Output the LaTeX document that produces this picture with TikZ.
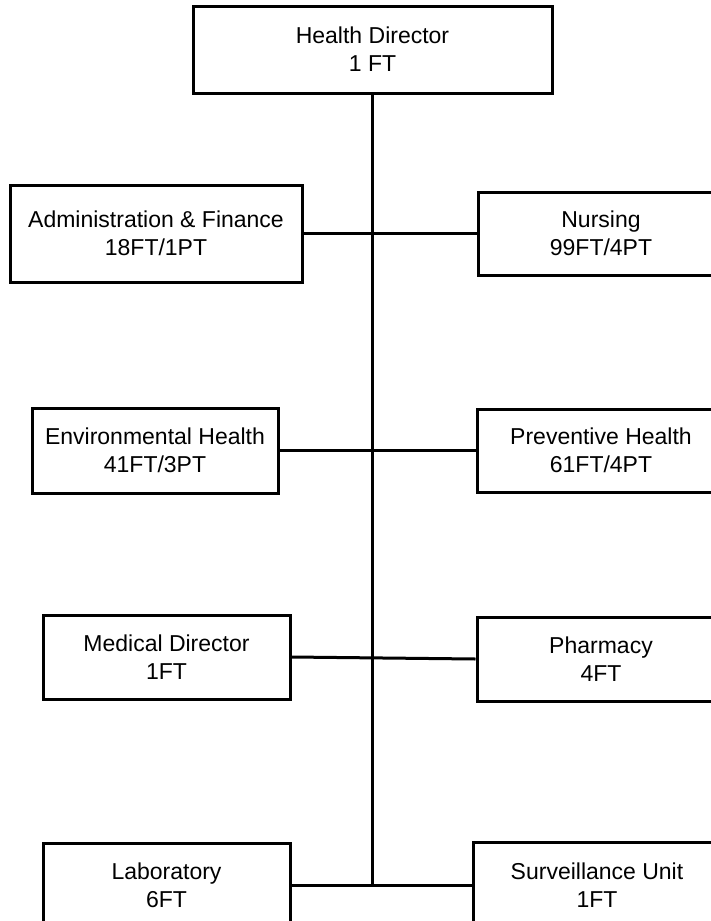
\documentclass[tikz,border=0pt]{standalone}
\usepackage{fontspec}
\setmainfont{Liberation Sans}

\begin{document}
\begin{tikzpicture}[x=1pt, y=-1pt]
        % ================= 样式定义 =================
        \tikzset{
            % 部门框:白底黑边矩形
            dept/.style={rectangle, draw=black, line width=3pt, fill=white, inner sep=0pt, align=center, font=\fontsize{23}{28}\selectfont},
            % 连线样式
            link/.style={line width=3pt, black}
        }
        \useasboundingbox (0,0) rectangle (710,921);

        % ================= 节点位置 =================
        \node[dept, minimum width=359pt, minimum height=87pt] (hd) at (372.5, 49.5) {Health Director\\1 FT};

        \node[dept, minimum width=292pt, minimum height=97pt] (admin) at (156, 233.5) {Administration \& Finance\\18FT/1PT};
        \node[dept, minimum width=246pt, minimum height=83pt] (nurs) at (601, 233.5) {Nursing\\99FT/4PT};

        \node[dept, minimum width=246pt, minimum height=85pt] (env) at (155, 450.5) {Environmental Health\\41FT/3PT};
        \node[dept, minimum width=248pt, minimum height=83pt] (prev) at (601, 450.5) {Preventive Health\\61FT/4PT};

        \node[dept, minimum width=247pt, minimum height=84pt] (med) at (166.5, 657) {Medical Director\\1FT};
        \node[dept, minimum width=248pt, minimum height=84pt] (pharm) at (601, 659) {Pharmacy\\4FT};

        \node[dept, minimum width=247pt, minimum height=84pt] (lab) at (166.5, 885) {Laboratory\\6FT};
        \node[dept, minimum width=248pt, minimum height=86pt] (surv) at (597, 885) {Surveillance Unit\\1FT};

        \coordinate (jn) at (hd.south |- lab.east);

        % ================= 连边 =================
        % 1. 主干
        \draw[link] (hd.south) -- (jn);

        % 2. 各行横线
        \draw[link] (admin.east) -- (nurs.west);
        \draw[link] (env.east) -- (prev.west);
        \draw[link] (med.east) -- (pharm.west);
        \draw[link] (lab.east) -- (surv.west);

    \end{tikzpicture}
\end{document}
